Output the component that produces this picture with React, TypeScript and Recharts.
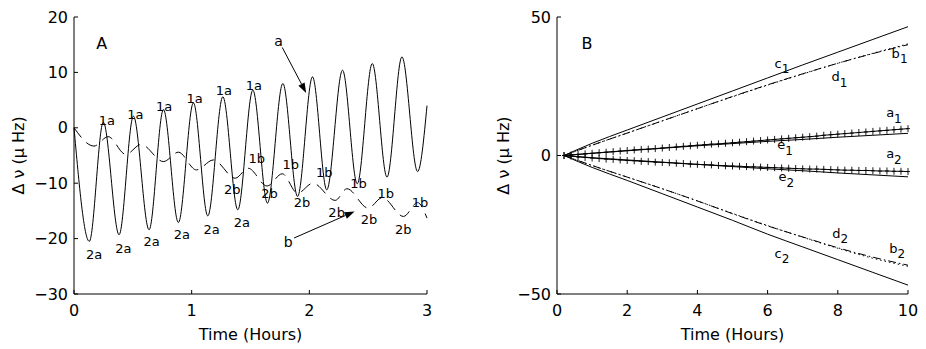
import React from 'react';
import { LineChart, Line, XAxis, YAxis, ReferenceDot, ReferenceLine } from 'recharts';

const FONT = '"DejaVu Sans", "Liberation Sans", sans-serif';

// ---- panel A: turning points ----
const solidHours = [0, 0.13, 0.249, 0.383, 0.505, 0.638, 0.76, 0.887, 1.015, 1.137, 1.265, 1.392, 1.52, 1.644, 1.775, 1.9, 2.027, 2.148, 2.282, 2.407, 2.535, 2.66, 2.787, 2.92, 3.0];
const solidShift = [0, -20.5, 1.0, -19.3, 2.1, -18.4, 3.3, -17.1, 4.5, -15.9, 5.6, -14.8, 6.8, -13.6, 8.0, -12.4, 9.2, -11.2, 10.4, -10.1, 11.6, -8.9, 12.8, -7.9, 4.0];
const dashHours = [0, 0.17, 0.29, 0.44, 0.57, 0.76, 0.887, 1.04, 1.185, 1.37, 1.48, 1.64, 1.77, 1.9, 2.03, 2.22, 2.32, 2.5, 2.62, 2.8, 2.92, 3.0];
const dashShift = [0, -3.3, -1.6, -4.8, -3.0, -6.1, -4.4, -7.6, -5.8, -9.1, -7.3, -10.5, -8.3, -11.8, -10.0, -13.1, -11.0, -14.5, -12.6, -16.0, -13.5, -16.3];

const hourTicksA = [0, 1, 2, 3];
const shiftTicksA = [-30, -20, -10, 0, 10, 20];

// peak / trough tags [hours, shift]
const tags1a = [[0.28, 1.4], [0.522, 2.4], [0.765, 3.8], [1.026, 5.3], [1.273, 6.7], [1.528, 7.7]];
const tags2a = [[0.17, -22.9], [0.42, -21.7], [0.66, -20.5], [0.916, -19.3], [1.17, -18.3], [1.426, -17.1]];
const tags1b = [[1.554, -5.5], [1.843, -6.7], [2.127, -8.1], [2.418, -10.0], [2.65, -11.9], [2.94, -13.5]];
const tags2b = [[1.344, -11.1], [1.661, -11.8], [1.937, -13.4], [2.232, -15.3], [2.507, -16.6], [2.798, -18.4]];

// ---- panel B ----
const lineHours = [0.2, 1, 2, 3, 4, 5, 6, 7, 8, 9, 10];
const c1 = [0, 4.4, 9.2, 13.9, 18.6, 23.3, 28.0, 32.7, 37.3, 41.9, 46.5];
const c2 = [0, -4.3, -9.0, -13.8, -18.6, -23.4, -28.4, -33.0, -37.6, -42.2, -46.8];
const d1 = [0, 3.7, 8.1, 12.5, 16.9, 21.3, 25.5, 29.5, 33.3, 36.8, 40.0];
const d2 = [0, -3.6, -7.8, -12.0, -16.4, -21.0, -25.4, -29.4, -33.3, -36.7, -39.6];
const b1 = [0, 3.7, 8.1, 12.5, 16.9, 21.2, 25.4, 29.4, 33.3, 36.9, 40.3];
const b2 = [0, -3.6, -7.8, -12.0, -16.4, -20.9, -25.3, -29.5, -33.5, -37.1, -40.0];
const e1 = [0, 0.8, 1.7, 2.6, 3.5, 4.3, 5.1, 5.8, 6.6, 7.3, 8.0];
const e2 = [0, -0.8, -1.6, -2.4, -3.2, -4.0, -4.8, -5.5, -6.3, -7.0, -7.7];

const markHours = [0.2, 0.4, 0.6, 0.8, 1.0, 1.2, 1.4, 1.6, 1.8, 2.0, 2.2, 2.4, 2.6, 2.8, 3.0, 3.2, 3.4, 3.6, 3.8, 4.0, 4.2, 4.4, 4.6, 4.8, 5.0, 5.2, 5.4, 5.6, 5.8, 6.0, 6.2, 6.4, 6.6, 6.8, 7.0, 7.2, 7.4, 7.6, 7.8, 8.0, 8.2, 8.4, 8.6, 8.8, 9.0, 9.2, 9.4, 9.6, 9.8, 10.0];
const a1 = [0, 0.2, 0.4, 0.6, 0.8, 1.0, 1.2, 1.4, 1.6, 1.8, 2.0, 2.2, 2.3, 2.5, 2.7, 2.9, 3.1, 3.3, 3.5, 3.7, 3.9, 4.1, 4.2, 4.4, 4.6, 4.8, 5.0, 5.2, 5.4, 5.6, 5.8, 6.0, 6.2, 6.4, 6.6, 6.8, 7.0, 7.3, 7.5, 7.7, 7.9, 8.1, 8.3, 8.5, 8.7, 8.9, 9.1, 9.3, 9.5, 9.7];
const a2 = [0, -0.2, -0.5, -0.7, -0.9, -1.1, -1.3, -1.4, -1.6, -1.8, -1.9, -2.1, -2.2, -2.4, -2.5, -2.6, -2.8, -2.9, -3.1, -3.2, -3.3, -3.4, -3.6, -3.7, -3.8, -3.9, -4.0, -4.1, -4.2, -4.3, -4.4, -4.5, -4.6, -4.7, -4.8, -4.9, -4.9, -5.0, -5.1, -5.2, -5.3, -5.3, -5.4, -5.4, -5.5, -5.6, -5.6, -5.7, -5.7, -5.8];

const hourTicksB = [0, 2, 4, 6, 8, 10];
const shiftTicksB = [-50, 0, 50];

// [letter, subscript, hours, shift]
const tagsB: [string, string, number, number][] = [
  ['c', '1', 6.41, 33.3],
  ['d', '1', 8.05, 28.5],
  ['b', '1', 9.76, 36.9],
  ['a', '1', 9.6, 15.5],
  ['e', '1', 6.5, 3.8],
  ['a', '2', 9.6, 0.6],
  ['e', '2', 6.53, -7.6],
  ['d', '2', 8.07, -28.0],
  ['c', '2', 6.41, -35.2],
  ['b', '2', 9.69, -33.4],
];

const pts = (xs: number[], ys: number[]) => xs.map((t, i) => ({ t, v: ys[i] }));

const minus = (v: number) => (v < 0 ? `\u2212${-v}` : `${v}`);

const tickStyle = { fill: '#000', fontSize: 16, fontFamily: FONT };

function tagShape(text: string, size = 13, sub?: string) {
  return (p: any) => (
    <text
      x={p.cx}
      y={p.cy}
      textAnchor="middle"
      dominantBaseline="central"
      fontSize={size}
      fontFamily={FONT}
      fill="#000"
      stroke="none"
    >
      {text}
      {sub ? (
        <tspan dy={6} fontSize={size - 1}>
          {sub}
        </tspan>
      ) : null}
    </text>
  );
}

function arrowShape(p: any) {
  const { x1, y1, x2, y2 } = p;
  const dx = x2 - x1;
  const dy = y2 - y1;
  const len = Math.hypot(dx, dy) || 1;
  const ux = dx / len;
  const uy = dy / len;
  const hl = 10;
  const hw = 3.5;
  const bx = x2 - ux * hl;
  const by = y2 - uy * hl;
  return (
    <g>
      <line x1={x1} y1={y1} x2={bx} y2={by} stroke="#000" strokeWidth={1} />
      <polygon
        points={`${x2},${y2} ${bx - uy * hw},${by + ux * hw} ${bx + uy * hw},${by - ux * hw}`}
        fill="#000"
      />
    </g>
  );
}

function plusDot(p: any) {
  const { cx, cy, index } = p;
  return (
    <path
      key={index}
      d={`M${cx - 2},${cy}h4M${cx},${cy - 3.5}v7`}
      stroke="#000"
      strokeWidth={0.9}
      fill="none"
    />
  );
}

function yTitle(offset: number) {
  return (props: any) => {
    const vb = props.viewBox;
    const x = vb.x + vb.width - offset;
    const y = vb.y + vb.height / 2;
    return (
      <text
        x={x}
        y={y}
        transform={`rotate(-90 ${x} ${y})`}
        textAnchor="middle"
        dominantBaseline="central"
        fontSize={16}
        fontFamily={FONT}
        fill="#000"
      >
        {'\u0394 \u03bd (\u03bc Hz)'}
      </text>
    );
  };
}

function PanelA() {
  return (
    <LineChart width={460} height={349} margin={{ top: 17, right: 33, bottom: 0, left: 4 }}>
      <XAxis
        type="number"
        dataKey="t"
        domain={[0, 3]}
        ticks={hourTicksA}
        height={55}
        stroke="#000"
        tickSize={-4}
        tickMargin={15}
        tick={tickStyle}
        label={{ value: 'Time (Hours)', position: 'insideBottom', offset: 9, fill: '#000', fontSize: 16, fontFamily: FONT }}
      />
      <XAxis xAxisId="top" orientation="top" type="number" dataKey="t" domain={[0, 3]} ticks={hourTicksA} height={0} stroke="#000" tickSize={-4} tick={false} />
      <YAxis
        type="number"
        domain={[-30, 20]}
        ticks={shiftTicksA}
        width={70}
        stroke="#000"
        tickSize={-4}
        tickMargin={10}
        tick={tickStyle}
        tickFormatter={minus}
        label={{ content: yTitle(56) }}
      />
      <YAxis yAxisId="right" orientation="right" type="number" domain={[-30, 20]} ticks={shiftTicksA} width={0} stroke="#000" tickSize={-4} tick={false} />

      <Line data={pts(solidHours, solidShift)} dataKey="v" type="monotone" stroke="#000" strokeWidth={1} dot={false} isAnimationActive={false} />
      <Line data={pts(dashHours, dashShift)} dataKey="v" type="monotone" stroke="#000" strokeWidth={1} strokeDasharray="12 7" dot={false} isAnimationActive={false} />

      {tags1a.map(([t, v], i) => (
        <ReferenceDot key={`1a${i}`} x={t} y={v} r={0} shape={tagShape('1a')} />
      ))}
      {tags2a.map(([t, v], i) => (
        <ReferenceDot key={`2a${i}`} x={t} y={v} r={0} shape={tagShape('2a')} />
      ))}
      {tags1b.map(([t, v], i) => (
        <ReferenceDot key={`1b${i}`} x={t} y={v} r={0} shape={tagShape('1b')} />
      ))}
      {tags2b.map(([t, v], i) => (
        <ReferenceDot key={`2b${i}`} x={t} y={v} r={0} shape={tagShape('2b')} />
      ))}

      <ReferenceDot x={0.235} y={15.2} r={0} shape={tagShape('A', 16)} />
      <ReferenceDot x={1.738} y={15.6} r={0} shape={tagShape('a', 14)} />
      <ReferenceDot x={1.82} y={-20.6} r={0} shape={tagShape('b', 14)} />
      <ReferenceLine segment={[{ x: 1.77, y: 14.5 }, { x: 1.973, y: 6.3 }]} shape={arrowShape} />
      <ReferenceLine segment={[{ x: 1.87, y: -19.9 }, { x: 2.385, y: -15.1 }]} shape={arrowShape} />
    </LineChart>
  );
}

function PanelB() {
  return (
    <LineChart width={466} height={349} margin={{ top: 17, right: 18, bottom: 0, left: 27 }}>
      <XAxis
        type="number"
        dataKey="t"
        domain={[0, 10]}
        ticks={hourTicksB}
        height={55}
        stroke="#000"
        tickSize={-4}
        tickMargin={15}
        tick={tickStyle}
        label={{ value: 'Time (Hours)', position: 'insideBottom', offset: 9, fill: '#000', fontSize: 16, fontFamily: FONT }}
      />
      <XAxis xAxisId="top" orientation="top" type="number" dataKey="t" domain={[0, 10]} ticks={hourTicksB} height={0} stroke="#000" tickSize={-4} tick={false} />
      <YAxis
        type="number"
        domain={[-50, 50]}
        ticks={shiftTicksB}
        width={70}
        stroke="#000"
        tickSize={-4}
        tickMargin={10}
        tick={tickStyle}
        tickFormatter={minus}
        label={{ content: yTitle(54) }}
      />
      <YAxis yAxisId="right" orientation="right" type="number" domain={[-50, 50]} ticks={shiftTicksB} width={0} stroke="#000" tickSize={-4} tick={false} />

      <Line data={pts(lineHours, c1)} dataKey="v" type="monotone" stroke="#000" strokeWidth={1} dot={false} isAnimationActive={false} />
      <Line data={pts(lineHours, c2)} dataKey="v" type="monotone" stroke="#000" strokeWidth={1} dot={false} isAnimationActive={false} />
      <Line data={pts(lineHours, d1)} dataKey="v" type="monotone" stroke="#000" strokeWidth={1} strokeDasharray="8 3 1.5 3" dot={false} isAnimationActive={false} />
      <Line data={pts(lineHours, d2)} dataKey="v" type="monotone" stroke="#000" strokeWidth={1} strokeDasharray="8 3 1.5 3" dot={false} isAnimationActive={false} />
      <Line data={pts(lineHours, b1)} dataKey="v" type="monotone" stroke="#000" strokeWidth={1} strokeDasharray="1.5 3" dot={false} isAnimationActive={false} />
      <Line data={pts(lineHours, b2)} dataKey="v" type="monotone" stroke="#000" strokeWidth={1} strokeDasharray="1.5 3" dot={false} isAnimationActive={false} />
      <Line data={pts(lineHours, e1)} dataKey="v" type="monotone" stroke="#000" strokeWidth={1} dot={false} isAnimationActive={false} />
      <Line data={pts(lineHours, e2)} dataKey="v" type="monotone" stroke="#000" strokeWidth={1} dot={false} isAnimationActive={false} />
      <Line data={pts(markHours, a1)} dataKey="v" type="linear" stroke="#000" strokeWidth={1} dot={plusDot} isAnimationActive={false} />
      <Line data={pts(markHours, a2)} dataKey="v" type="linear" stroke="#000" strokeWidth={1} dot={plusDot} isAnimationActive={false} />

      <ReferenceDot x={0.855} y={40.5} r={0} shape={tagShape('B', 16)} />
      {tagsB.map(([s, sub, t, v], i) => (
        <ReferenceDot key={`tb${i}`} x={t} y={v} r={0} shape={tagShape(s, 13, sub)} />
      ))}
    </LineChart>
  );
}

export default function App() {
  return (
    <div style={{ position: 'absolute', left: 0, top: 0, width: 926, height: 349, background: '#fff', fontFamily: FONT }}>
      <div style={{ position: 'absolute', left: 0, top: 0 }}>
        <PanelA />
      </div>
      <div style={{ position: 'absolute', left: 460, top: 0 }}>
        <PanelB />
      </div>
    </div>
  );
}
